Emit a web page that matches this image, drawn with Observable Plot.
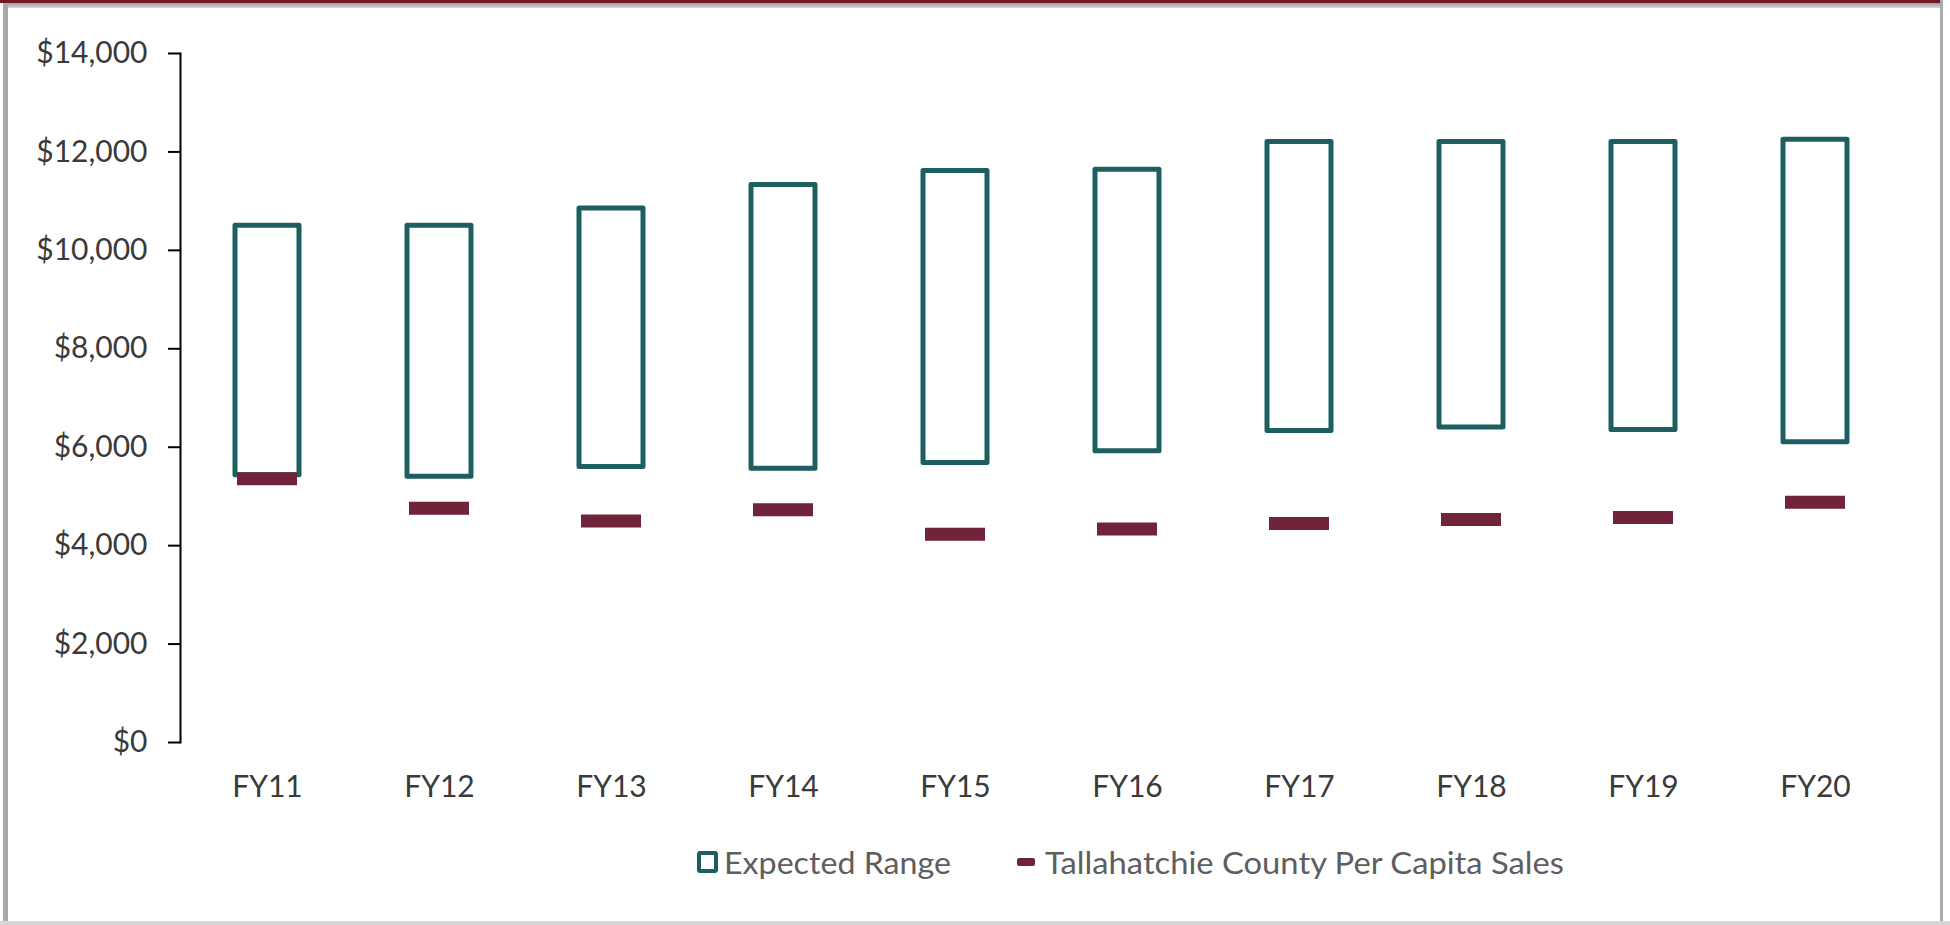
<!DOCTYPE html>
<html>
<head>
<meta charset="utf-8">
<script src="https://cdn.jsdelivr.net/npm/d3@7"></script>
<script src="https://cdn.jsdelivr.net/npm/@observablehq/plot@0.6"></script>
<style>
  html, body { margin: 0; padding: 0; background: #ffffff; width: 1950px; height: 925px; overflow: hidden; }
  #wrap { position: relative; width: 1950px; height: 925px; }
  #chart svg, #legend svg { display: block; }
  .deco { position: absolute; pointer-events: none; }
</style>
</head>
<body>
<div id="wrap">
  <div id="chart"></div>
  <div id="legend"></div>
  <div class="deco" style="left:0;top:0;width:1943px;height:3px;background:#6e1b27;"></div>
  <div class="deco" style="left:3px;top:3px;width:1937px;height:5px;background:linear-gradient(#9a9a9a,#d8d8d8);"></div>
  <div class="deco" style="left:3px;top:3px;width:5px;height:919px;background:#a9a9a9;"></div>
  <div class="deco" style="left:1940px;top:0;width:3px;height:922px;background:#a9a9a9;"></div>
  <div class="deco" style="left:0;top:921px;width:1950px;height:4px;background:#d6d6d6;"></div>
</div>
<script>
// ---- data ----
const years = ["FY11", "FY12", "FY13", "FY14", "FY15", "FY16", "FY17", "FY18", "FY19", "FY20"];
const rangeLow  = [5430, 5400, 5600, 5560, 5680, 5920, 6330, 6400, 6350, 6100];
const rangeHigh = [10500, 10500, 10850, 11330, 11610, 11640, 12200, 12200, 12200, 12250];
const perCapitaSales = [5360, 4760, 4500, 4730, 4230, 4340, 4450, 4530, 4570, 4880];
const yTicks = [0, 2000, 4000, 6000, 8000, 10000, 12000, 14000];
const legendLabels = ["Expected Range", "Tallahatchie County Per Capita Sales"];

const teal = "#1d5f61";
const maroon = "#71233a";

const rows = years.map((fy, i) => ({fy, low: rangeLow[i], high: rangeHigh[i], sales: perCapitaSales[i]}));

const fmt = d3.format(",");
const chart = Plot.plot({
  width: 1950,
  height: 800,
  marginLeft: 180,
  marginRight: 49,
  marginTop: 53,
  marginBottom: 58,
  style: {fontFamily: "Lato, 'Open Sans', sans-serif", background: "transparent", overflow: "visible"},
  x: {domain: years, padding: 0},
  y: {domain: [0, 14000]},
  marks: [
    Plot.frame({anchor: "left", stroke: "#000", strokeWidth: 2}),
    Plot.axisY({ticks: yTicks, tickSize: 12, tickPadding: 21, tickFormat: d => "$" + fmt(d),
      fontSize: 30, stroke: "#000", strokeWidth: 2, fill: "#3a3a3a", label: null}),
    Plot.axisX({tickSize: 0, tickPadding: 33, fontSize: 30, fill: "#3a3a3a", label: null}),
    Plot.barY(rows, {x: "fy", y1: "low", y2: "high", fill: "none", stroke: teal, strokeWidth: 5,
      strokeLinejoin: "round", insetLeft: 54, insetRight: 54}),
    Plot.tickY(rows, {x: "fy", y: "sales", stroke: maroon, strokeWidth: 13, insetLeft: 56, insetRight: 56})
  ]
});
document.getElementById("chart").appendChild(chart);

// ---- legend (below the plot SVG) ----
const lg = d3.select("#legend").append("svg").attr("width", 1950).attr("height", 125)
  .style("font-family", "Lato, 'Open Sans', sans-serif");
lg.append("rect").attr("x", 699).attr("y", 53).attr("width", 17).attr("height", 18)
  .attr("fill", "#fff").attr("stroke", teal).attr("stroke-width", 4).attr("rx", 1);
lg.append("text").attr("x", 724).attr("y", 74).attr("font-size", 30).attr("fill", "#5e5e5e")
  .attr("textLength", 227).attr("lengthAdjust", "spacingAndGlyphs").text(legendLabels[0]);
lg.append("rect").attr("x", 1017).attr("y", 58).attr("width", 18).attr("height", 8)
  .attr("rx", 2).attr("fill", maroon);
lg.append("text").attr("x", 1045).attr("y", 74).attr("font-size", 30).attr("fill", "#5e5e5e")
  .attr("textLength", 519).attr("lengthAdjust", "spacingAndGlyphs").text(legendLabels[1]);
</script>
</body>
</html>
